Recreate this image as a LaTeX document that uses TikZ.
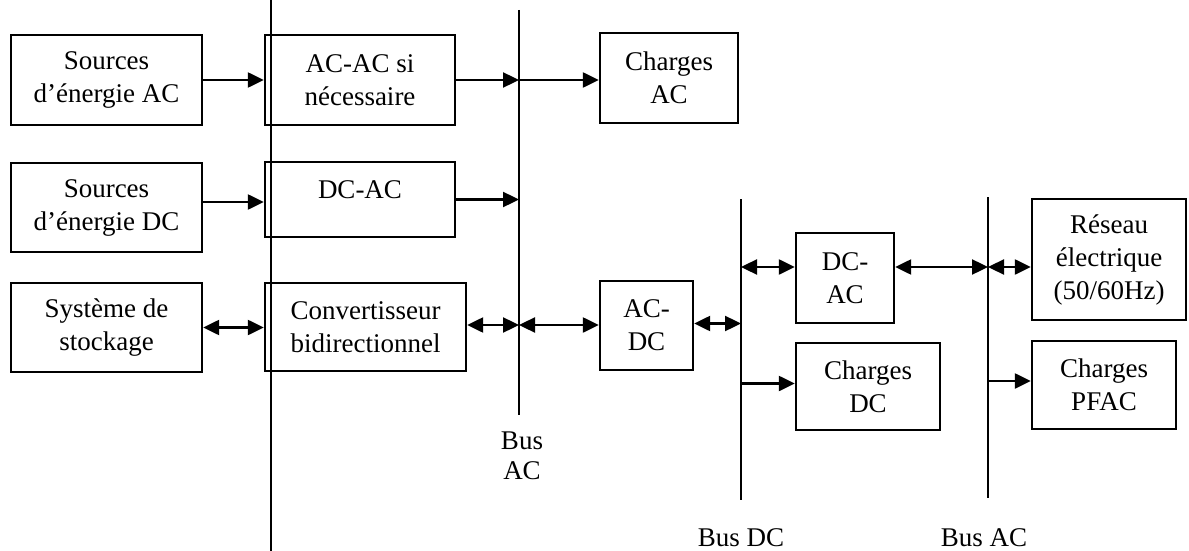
\documentclass[tikz,border=0pt]{standalone}
\usepackage{fontspec}
\setmainfont{Liberation Serif}
\usetikzlibrary{arrows.meta}
\begin{document}
\begin{tikzpicture}[x=1pt,y=-1pt,
  box/.style={draw, line width=2.4pt, align=center, inner sep=0pt,
    font=\fontsize{27}{33}\selectfont},
  conn/.style={line width=2.4pt, -{Triangle[length=16pt,width=15pt]}},
  bconn/.style={line width=2.4pt, {Triangle[length=16pt,width=15pt]}-{Triangle[length=16pt,width=15pt]}},
  busline/.style={line width=2.4pt},
  lbl/.style={font=\fontsize{27}{30}\selectfont, align=center, inner sep=0pt}]
\useasboundingbox (0,0) rectangle (1189,551);

% boxes
\node[box, minimum width=191, minimum height=90] (srcAC) at (106.5,80) {Sources\\d’énergie AC};
\node[box, minimum width=191, minimum height=89] (srcDC) at (106.5,207.5) {Sources\\d’énergie DC};
\node[box, minimum width=191, minimum height=89] (stock) at (106.5,327.5) {Système de\\stockage};
\node[box, minimum width=190, minimum height=90] (acac) at (360,80) {AC-AC si\\nécessaire};
\node[box, minimum width=190, minimum height=75, text depth=19pt] (dcacA) at (360,199.5) {DC-AC};
\node[box, minimum width=201, minimum height=88] (conv) at (365.5,327) {Convertisseur\\bidirectionnel};
\node[box, minimum width=138, minimum height=90] (chAC) at (669,78) {Charges\\AC};
\node[box, minimum width=93, minimum height=89] (acdc) at (646.5,325.5) {AC-\\DC};
\node[box, minimum width=98, minimum height=90] (dcacB) at (845,278) {DC-\\AC};
\node[box, minimum width=144, minimum height=87] (chDC) at (868,386.5) {Charges\\DC};
\node[box, minimum width=154, minimum height=121] (reseau) at (1109,259.5) {Réseau\\électrique\\(50/60Hz)};
\node[box, minimum width=144, minimum height=88] (pfac) at (1104,385) {Charges\\PFAC};

% bus lines
\coordinate (mainT) at (271,0);   \coordinate (mainB) at (271,551);
\coordinate (busAT) at (519,10);  \coordinate (busAB) at (519,415);
\coordinate (busDT) at (741,199); \coordinate (busDB) at (741,500);
\coordinate (busCT) at (988,197); \coordinate (busCB) at (988,498);
\draw[busline] (mainT) -- (mainB);
\draw[busline] (busAT) -- (busAB);
\draw[busline] (busDT) -- (busDB);
\draw[busline] (busCT) -- (busCB);

% labels
\node[lbl] (lblA) at (522,456) {Bus\\AC};
\node[lbl, anchor=base] (lblD) at (741,546) {Bus DC};
\node[lbl, anchor=base] (lblC) at (984,546) {Bus AC};

% connectors
\draw[conn] (srcAC.east) -- (acac.west);
\draw[conn] (acac.east) -- (acac.east -| busAT);
\draw[conn] (acac.east -| busAT) -- (acac.east -| chAC.west);
\draw[conn] ([yshift=-2.5pt]dcacA.west -| srcDC.east) -- ([yshift=-2.5pt]dcacA.west);
\draw[conn] (dcacA.east) -- (dcacA.east -| busAT);
\draw[bconn] (stock.east) -- (stock.east -| conv.west);
\draw[bconn] ([yshift=2pt]conv.east) -- ([yshift=2pt]conv.east -| busAT);
\draw[bconn] ([yshift=2pt]conv.east -| busAT) -- ([yshift=2pt]conv.east -| acdc.west);
\draw[bconn] ([yshift=2pt]acdc.east) -- ([yshift=2pt]acdc.east -| busDT);
\draw[bconn] ([yshift=11pt]dcacB.west -| busDT) -- ([yshift=11pt]dcacB.west);
\draw[conn] ([yshift=3pt]chDC.west -| busDT) -- ([yshift=3pt]chDC.west);
\draw[bconn] ([yshift=11pt]dcacB.east) -- ([yshift=11pt]dcacB.east -| busCT);
\draw[bconn] ([yshift=11pt]dcacB.east -| busCT) -- ([yshift=11pt]dcacB.east -| reseau.west);
\draw[conn] ([yshift=4pt]pfac.west -| busCT) -- ([yshift=4pt]pfac.west);
\end{tikzpicture}
\end{document}
